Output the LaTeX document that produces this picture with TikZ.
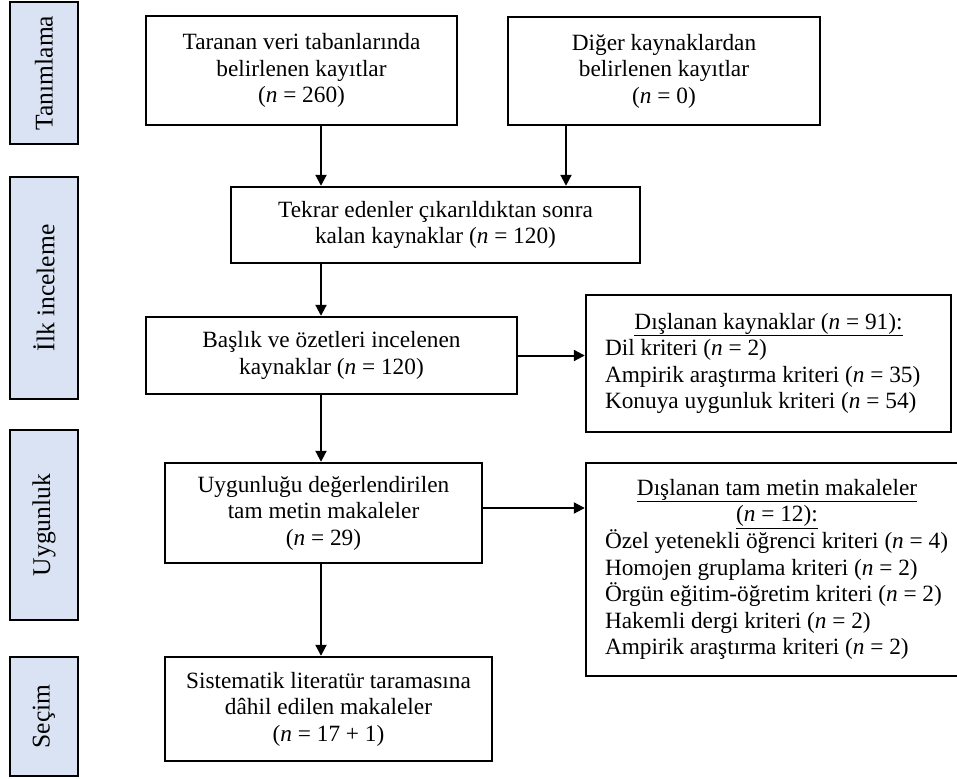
\documentclass[tikz,border=0pt]{standalone}
\usepackage{fontspec}
\setmainfont{Liberation Serif}
\usetikzlibrary{arrows.meta}
\definecolor{lblue}{RGB}{218,227,243}
\begin{document}
\begin{tikzpicture}[x=1pt,y=-1pt,
  box/.style={draw=black,line width=2.4pt,align=center,inner sep=0pt,font=\fontsize{23.3}{26.6}\selectfont},
  listbox/.style={box,align=flush left},
  stage/.style={draw=black,fill=lblue,line width=2.4pt,rotate=90,inner sep=0pt,minimum height=68pt,font=\fontsize{25.5}{28}\selectfont},
  arr/.style={line width=2pt,-{Triangle[length=11pt,width=11pt]}}]
\useasboundingbox (0,0) rectangle (957,778);
% stage labels
\node[stage,minimum width=142pt] (s1) at (44,73) {Tanımlama};
\node[stage,minimum width=222pt] (s2) at (44,288) {İlk inceleme};
\node[stage,minimum width=190pt] (s3) at (44,525) {Uygunluk};
\node[stage,minimum width=119pt] (s4) at (44,716.5) {Seçim};
% main boxes
\node[box,minimum width=311pt,minimum height=109pt] (A) at (301.5,70.5) {Taranan veri tabanlarında\\belirlenen kayıtlar\\(\textit{n} = 260)};
\node[box,minimum width=312pt,minimum height=108pt] (B) at (664,71) {Diğer kaynaklardan\\belirlenen kayıtlar\\(\textit{n} = 0)};
\node[box,minimum width=409pt,minimum height=76pt] (C) at (435.5,225) {Tekrar edenler çıkarıldıktan sonra\\kalan kaynaklar (\textit{n} = 120)};
\node[box,minimum width=371pt,minimum height=77pt] (D) at (331.5,355.5) {Başlık ve özetleri incelenen\\kaynaklar (\textit{n} = 120)};
\node[box,minimum width=317pt,minimum height=100pt] (E) at (323.5,513) {Uygunluğu değerlendirilen\\tam metin makaleler\\(\textit{n} = 29)};
\node[box,minimum width=327pt,minimum height=104pt] (F) at (328.5,709) {Sistematik literatür taramasına\\dâhil edilen makaleler\\(\textit{n} = 17 + 1)};
% exclusion boxes
\node[listbox,minimum width=365pt,minimum height=137pt,text width=327pt] (X1) at (768.5,363.5)
 {{\centering\underline{Dışlanan kaynaklar (\textit{n} = 91):}\par}
  \mbox{Dil kriteri (\textit{n} = 2)}\par
  \mbox{Ampirik araştırma kriteri (\textit{n} = 35)}\par
  \mbox{Konuya uygunluk kriteri (\textit{n} = 54)}};
\node[listbox,minimum width=382pt,minimum height=213pt,text width=344pt] (X2) at (777,569.5)
 {{\centering\underline{Dışlanan tam metin makaleler}\par
   \underline{(\textit{n} = 12):}\par}
  \mbox{Özel yetenekli öğrenci kriteri (\textit{n} = 4)}\par
  \mbox{Homojen gruplama kriteri (\textit{n} = 2)}\par
  \mbox{Örgün eğitim-öğretim kriteri (\textit{n} = 2)}\par
  \mbox{Hakemli dergi kriteri (\textit{n} = 2)}\par
  \mbox{Ampirik araştırma kriteri (\textit{n} = 2)}};
% connectors
\coordinate (c1) at (321,0);
\coordinate (c2) at (566,0);
\coordinate (r2) at (0,508);
\draw[arr] (A.south -| c1) -- (C.north -| c1);
\draw[arr] (B.south -| c2) -- (C.north -| c2);
\draw[arr] (C.south -| c1) -- (D.north -| c1);
\draw[arr] (D.east) -- (X1.west |- D.east);
\draw[arr] (D.south -| c1) -- (E.north -| c1);
\draw[arr] (E.east |- r2) -- (X2.west |- r2);
\draw[arr] (E.south -| c1) -- (F.north -| c1);
\end{tikzpicture}
\end{document}
